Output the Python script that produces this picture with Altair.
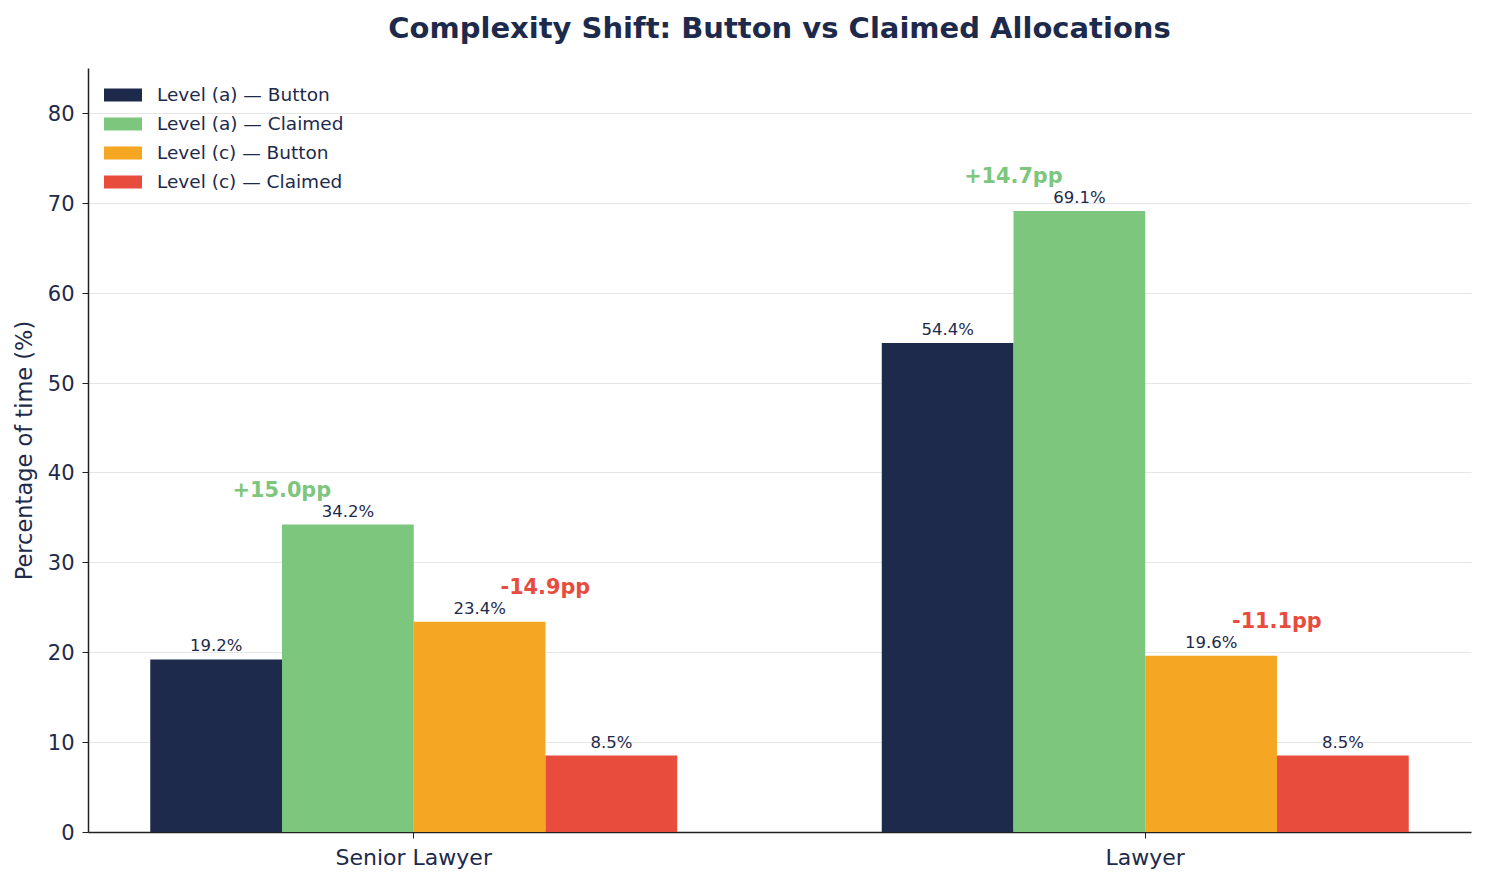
import altair as alt
import pandas as pd

categories = ["Senior Lawyer", "Lawyer"]
series = ["Level (a) — Button", "Level (a) — Claimed", "Level (c) — Button", "Level (c) — Claimed"]
button_a = [19.2, 54.4]
claimed_a = [34.2, 69.1]
button_c = [23.4, 19.6]
claimed_c = [8.5, 8.5]
shift_a = ["+15.0pp", "+14.7pp"]
shift_c = ["-14.9pp", "-11.1pp"]
colors = ["#1d2a4b", "#7dc67e", "#f5a623", "#e84c3d"]
navy = "#1d2a4b"

rows = []
for i, c in enumerate(categories):
    for s, vals in zip(series, [button_a, claimed_a, button_c, claimed_c]):
        rows.append({"cat": c, "series": s, "value": vals[i], "label": f"{vals[i]:.1f}%"})
df = pd.DataFrame(rows)

ann = []
for i, c in enumerate(categories):
    ann.append({"cat": c, "series": series[1], "y": max(button_a[i], claimed_a[i]), "text": shift_a[i], "kind": "a"})
    ann.append({"cat": c, "series": series[3], "y": max(button_c[i], claimed_c[i]), "text": shift_c[i], "kind": "c"})
adf = pd.DataFrame(ann)

FONT = "DejaVu Sans"

x = alt.X("cat:N", sort=categories, title=None,
          scale=alt.Scale(paddingInner=0.2796, paddingOuter=0.0851),
          axis=alt.Axis(labelAngle=0, labelFontSize=22, labelColor=navy, labelPadding=9,
                        tickSize=6, tickColor="#222", domainColor="#222", domainWidth=1.5,
                        grid=False, labelFont=FONT))
xo = alt.XOffset("series:N", sort=series, scale=alt.Scale(paddingInner=0, paddingOuter=0))
y = alt.Y("value:Q", title="Percentage of time (%)",
          scale=alt.Scale(domain=[0, 85], nice=False),
          axis=alt.Axis(values=list(range(0, 90, 10)), labelFontSize=21, labelColor=navy,
                        titleFontSize=22.5, titleColor=navy, titleFontWeight="normal",
                        tickSize=6, tickColor="#222", domainColor="#222", domainWidth=1.5,
                        gridColor="#e6e6e6", gridWidth=1.2, labelPadding=8, labelOffset=1.5,
                        titlePadding=11, labelFont=FONT, titleFont=FONT))

bars = alt.Chart(df).mark_bar(size=131.75).encode(
    x=x, xOffset=xo, y=y,
    color=alt.Color("series:N", sort=series,
                    scale=alt.Scale(domain=series, range=colors),
                    legend=alt.Legend(title=None, orient="none", legendX=16, legendY=8,
                                      symbolType="M-1,-0.34L1,-0.34L1,0.34L-1,0.34Z",
                                      symbolSize=1444, symbolStrokeWidth=0,
                                      labelFontSize=18.5, labelColor=navy, labelFont=FONT,
                                      labelOffset=15, rowPadding=-0.5, symbolOpacity=1,
                                      labelLimit=0)),
)

labels = alt.Chart(df).mark_text(fontSize=16.5, color=navy, baseline="alphabetic", dy=-8, font=FONT).encode(
    x=x, xOffset=xo, y="value:Q", text="label:N"
)

annot = alt.Chart(adf).mark_text(fontSize=20.8, fontWeight="bold", baseline="middle", dy=-34, dx=-66, font=FONT).encode(
    x=x, xOffset=xo, y=alt.Y("y:Q"), text="text:N",
    color=alt.Color("kind:N", scale=alt.Scale(domain=["a", "c"], range=[colors[1], colors[3]]), legend=None),
)

chart = alt.layer(bars, labels, annot).resolve_scale(color="independent").properties(
    width=1383, height=764,
    title=alt.TitleParams("Complexity Shift: Button vs Claimed Allocations", fontSize=29,
                          fontWeight="bold", color=navy, font=FONT, offset=24),
    padding={"left": 5, "top": 7, "right": 5, "bottom": 5},
).configure_view(stroke=None)

chart.save("out.html", embed_options={"renderer": "svg", "actions": False})
